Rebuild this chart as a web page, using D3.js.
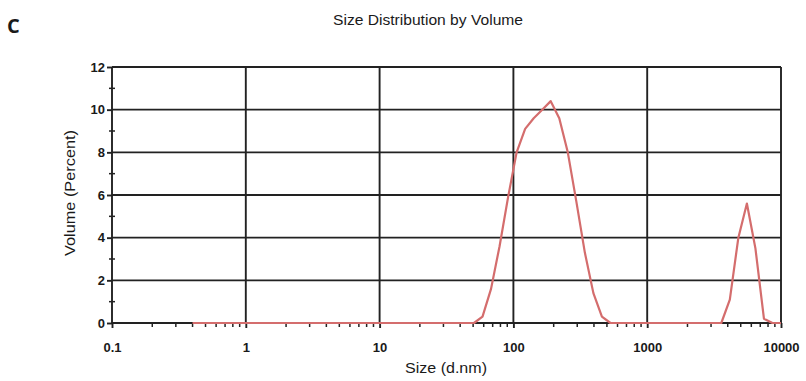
<!DOCTYPE html>
<html>
<head>
<meta charset="utf-8">
<script src="https://cdn.jsdelivr.net/npm/d3@7"></script>
<style>
  body { margin: 0; background: #fff; }
  text { font-family: "Liberation Sans", Arial, sans-serif; fill: #1a1a1a; }
</style>
</head>
<body>
<div id="plot"></div>
<script>
// size classes (d.nm) and volume %
const sizes = [0.4, 0.4632, 0.5365, 0.6213, 0.7195, 0.8332, 0.9649, 1.117, 1.294, 1.499,
  1.736, 2.01, 2.328, 2.696, 3.122, 3.615, 4.187, 4.849, 5.615, 6.503,
  7.531, 8.721, 10.1, 11.7, 13.54, 15.69, 18.17, 21.04, 24.36, 28.21,
  32.67, 37.84, 43.82, 50.75, 58.77, 68.06, 78.82, 91.28, 105.7, 122.4,
  141.8, 164.2, 190.1, 220.2, 255, 295.3, 342, 396.1, 458.7, 531.2,
  615.1, 712.4, 825, 955.4, 1106, 1281, 1484, 1718, 1990, 2305,
  2669, 3091, 3580, 4145, 4801, 5560, 6439, 7456, 8635, 10000];
const volume = [0, 0, 0, 0, 0, 0, 0, 0, 0, 0,
  0, 0, 0, 0, 0, 0, 0, 0, 0, 0,
  0, 0, 0, 0, 0, 0, 0, 0, 0, 0,
  0, 0, 0, 0, 0.3, 1.6, 3.6, 5.9, 8.0, 9.1,
  9.6, 10.0, 10.4, 9.6, 8.0, 5.7, 3.3, 1.4, 0.3, 0,
  0, 0, 0, 0, 0, 0, 0, 0, 0, 0,
  0, 0, 0, 1.1, 4.0, 5.6, 3.5, 0.2, 0, 0];

const xTicks = [0.1, 1, 10, 100, 1000, 10000];
const xTickLabels = ["0.1", "1", "10", "100", "1000", "10000"];
const yTicks = [0, 2, 4, 6, 8, 10, 12];
const yMinor = [1, 3, 5, 7, 9, 11];

const W = 806, H = 381;
let margin = {top: 67, right: 25, bottom: 58, left: 112};
let width = W - margin.left - margin.right;
let height = H - margin.top - margin.bottom;

let svg = d3.select("#plot").append("svg")
  .attr("width", W).attr("height", H);

let g = svg.append("g")
  .attr("transform", "translate(" + margin.left + "," + margin.top + ")");

let x = d3.scaleLog().domain([0.1, 10000]).range([0, width]);
let y = d3.scaleLinear().domain([0, 12]).range([height, 0]);

// minor x ticks 2..9 of each decade
let xMinor = [];
xTicks.slice(0, -1).forEach(d => { for (let k = 2; k <= 9; k++) xMinor.push(d * k); });

const gridCol = "#222";

// grid
g.selectAll(".hgrid").data(yTicks).enter().append("line")
  .attr("x1", 0).attr("x2", width)
  .attr("y1", d => y(d)).attr("y2", d => y(d))
  .attr("stroke", gridCol).attr("stroke-width", 1.9);
g.selectAll(".vgrid").data(xTicks).enter().append("line")
  .attr("x1", d => x(d)).attr("x2", d => x(d))
  .attr("y1", 0).attr("y2", height)
  .attr("stroke", gridCol).attr("stroke-width", 1.9);

// minor ticks
g.selectAll(".xminor").data(xMinor).enter().append("line")
  .attr("x1", d => x(d)).attr("x2", d => x(d))
  .attr("y1", height - 1).attr("y2", height + 4)
  .attr("stroke", gridCol).attr("stroke-width", 1.5);
g.selectAll(".yminor").data(yMinor).enter().append("line")
  .attr("x1", -3).attr("x2", 3)
  .attr("y1", d => y(d)).attr("y2", d => y(d))
  .attr("stroke", gridCol).attr("stroke-width", 1.5);

// axes
let yAxis = g.append("g")
  .call(d3.axisLeft(y).tickValues(yTicks).tickSize(5).tickPadding(2).tickFormat(d3.format("d")));
let xAxis = g.append("g")
  .attr("transform", "translate(0," + height + ")")
  .call(d3.axisBottom(x).tickValues(xTicks).tickSize(5).tickPadding(15)
    .tickFormat((d, i) => xTickLabels[i]));
[xAxis, yAxis].forEach(a => {
  a.select(".domain").remove();
  a.selectAll("line").attr("stroke", gridCol).attr("stroke-width", 1.9);
  a.selectAll("text").style("font-size", "13px").style("font-weight", "bold").attr("fill", "#1a1a1a");
});

// curve
let line = d3.line()
  .x((d, i) => x(sizes[i]))
  .y(d => y(d));
g.append("path")
  .datum(volume)
  .attr("d", line)
  .attr("fill", "none")
  .attr("stroke", "#d46d6d")
  .attr("stroke-width", 2.2)
  .attr("stroke-linejoin", "round");

// titles
svg.append("text")
  .attr("x", 428).attr("y", 25)
  .attr("text-anchor", "middle")
  .attr("textLength", 190).attr("lengthAdjust", "spacingAndGlyphs")
  .style("font-size", "14px")
  .text("Size Distribution by Volume");

svg.append("text")
  .attr("x", 7).attr("y", 33)
  .style("font-family", "'Open Sans', sans-serif")
  .style("font-size", "20px").style("font-weight", "bold")
  .text("C");

svg.append("text")
  .attr("x", 446).attr("y", 373)
  .attr("text-anchor", "middle")
  .attr("textLength", 82).attr("lengthAdjust", "spacingAndGlyphs")
  .style("font-size", "14px")
  .text("Size (d.nm)");

svg.append("text")
  .attr("transform", "translate(75,193) rotate(-90)")
  .attr("text-anchor", "middle")
  .attr("textLength", 126).attr("lengthAdjust", "spacingAndGlyphs")
  .style("font-size", "14px")
  .text("Volume (Percent)");
</script>
</body>
</html>
